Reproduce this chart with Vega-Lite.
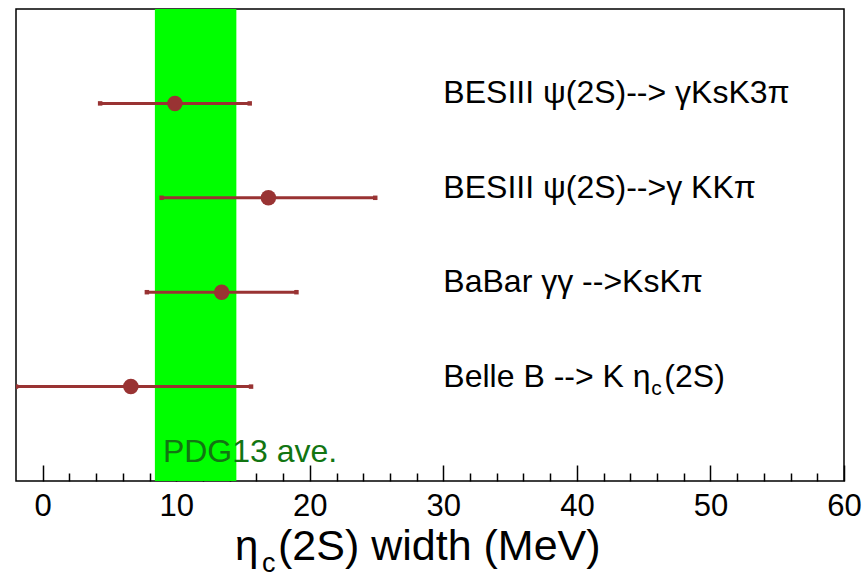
{
  "$schema": "https://vega.github.io/schema/vega-lite/v6.json",
  "width": 828,
  "height": 472,
  "autosize": {"type": "none"},
  "padding": {"left": 16, "top": 9, "right": 23, "bottom": 100},
  "background": "white",
  "config": {
    "view": {"stroke": "black", "strokeWidth": 1.5},
    "font": "Liberation Sans"
  },
  "datasets": {
    "meas": [
      {"exp": "BESIII ψ(2S)--> γKsK3π", "row": 4, "width": 9.9, "low": 4.3, "high": 15.5},
      {"exp": "BESIII ψ(2S)-->γ KKπ", "row": 3, "width": 16.9, "low": 8.9, "high": 24.9},
      {"exp": "BaBar γγ -->KsKπ", "row": 2, "width": 13.4, "low": 7.8, "high": 19.0},
      {"exp": "Belle B --> K η", "row": 1, "width": 6.6, "low": -2, "high": 15.6}
    ],
    "pdg": [
      {"lo": 8.4, "hi": 14.5, "label": "PDG13 ave."}
    ]
  },
  "layer": [
    {
      "data": {"name": "pdg"},
      "mark": {"type": "rect", "color": "#00ff00"},
      "encoding": {
        "x": {"field": "lo", "type": "quantitative", "scale": {"domain": [-2, 60], "nice": false, "zero": false},
          "axis": {"values": [0,2,4,6,8,10,12,14,16,18,20,22,24,26,28,30,32,34,36,38,40,42,44,46,48,50,52,54,56,58,60],
            "tickSize": {"condition": {"test": "datum.value % 10 === 0", "value": -16}, "value": -8},
            "labelExpr": "datum.value % 10 === 0 ? datum.label : ''",
            "grid": false, "domain": false, "tickColor": "black", "tickWidth": 1.5, "labelFlush": false,
            "labelFontSize": 31, "labelFont": "Liberation Sans", "labelColor": "black", "labelPadding": 26, "title": null}},
        "x2": {"field": "hi"},
        "y": {"datum": 0, "type": "quantitative", "scale": {"domain": [0, 5], "nice": false, "zero": false}, "axis": null},
        "y2": {"datum": 5}
      }
    },
    {
      "data": {"name": "pdg"},
      "mark": {"type": "text", "align": "left", "baseline": "alphabetic", "fontSize": 32, "color": "#127512", "dx": 8, "font": "Liberation Sans"},
      "encoding": {
        "x": {"field": "lo", "type": "quantitative", "scale": {"domain": [-2, 60], "nice": false, "zero": false},
          "axis": {"values": [0,2,4,6,8,10,12,14,16,18,20,22,24,26,28,30,32,34,36,38,40,42,44,46,48,50,52,54,56,58,60],
            "tickSize": {"condition": {"test": "datum.value % 10 === 0", "value": -16}, "value": -8},
            "labelExpr": "datum.value % 10 === 0 ? datum.label : ''",
            "grid": false, "domain": false, "tickColor": "black", "tickWidth": 1.5, "labelFlush": false,
            "labelFontSize": 31, "labelFont": "Liberation Sans", "labelColor": "black", "labelPadding": 26, "title": null}},
        "y": {"datum": 0.2, "type": "quantitative", "scale": {"domain": [0, 5], "nice": false, "zero": false}, "axis": null},
        "text": {"field": "label"}
      }
    },
    {
      "data": {"name": "meas"},
      "mark": {"type": "rule", "color": "#993333", "strokeWidth": 3, "clip": true},
      "encoding": {
        "x": {"field": "low", "type": "quantitative", "scale": {"domain": [-2, 60], "nice": false, "zero": false},
          "axis": {"values": [0,2,4,6,8,10,12,14,16,18,20,22,24,26,28,30,32,34,36,38,40,42,44,46,48,50,52,54,56,58,60],
            "tickSize": {"condition": {"test": "datum.value % 10 === 0", "value": -16}, "value": -8},
            "labelExpr": "datum.value % 10 === 0 ? datum.label : ''",
            "grid": false, "domain": false, "tickColor": "black", "tickWidth": 1.5, "labelFlush": false,
            "labelFontSize": 31, "labelFont": "Liberation Sans", "labelColor": "black", "labelPadding": 26, "title": null}},
        "x2": {"field": "high"},
        "y": {"field": "row", "type": "quantitative", "scale": {"domain": [0, 5], "nice": false, "zero": false}, "axis": null}
      }
    },
    {
      "data": {"name": "meas"},
      "transform": [{"fold": ["low", "high"], "as": ["end", "val"]}],
      "mark": {"type": "point", "shape": "square", "filled": true, "size": 20, "color": "#993333", "opacity": 1, "clip": true},
      "encoding": {
        "x": {"field": "val", "type": "quantitative", "scale": {"domain": [-2, 60], "nice": false, "zero": false},
          "axis": {"values": [0,2,4,6,8,10,12,14,16,18,20,22,24,26,28,30,32,34,36,38,40,42,44,46,48,50,52,54,56,58,60],
            "tickSize": {"condition": {"test": "datum.value % 10 === 0", "value": -16}, "value": -8},
            "labelExpr": "datum.value % 10 === 0 ? datum.label : ''",
            "grid": false, "domain": false, "tickColor": "black", "tickWidth": 1.5, "labelFlush": false,
            "labelFontSize": 31, "labelFont": "Liberation Sans", "labelColor": "black", "labelPadding": 26, "title": null}},
        "y": {"field": "row", "type": "quantitative", "scale": {"domain": [0, 5], "nice": false, "zero": false}, "axis": null}
      }
    },
    {
      "data": {"name": "meas"},
      "mark": {"type": "point", "shape": "circle", "filled": true, "size": 240, "color": "#993333", "opacity": 1},
      "encoding": {
        "x": {"field": "width", "type": "quantitative", "scale": {"domain": [-2, 60], "nice": false, "zero": false},
          "axis": {"values": [0,2,4,6,8,10,12,14,16,18,20,22,24,26,28,30,32,34,36,38,40,42,44,46,48,50,52,54,56,58,60],
            "tickSize": {"condition": {"test": "datum.value % 10 === 0", "value": -16}, "value": -8},
            "labelExpr": "datum.value % 10 === 0 ? datum.label : ''",
            "grid": false, "domain": false, "tickColor": "black", "tickWidth": 1.5, "labelFlush": false,
            "labelFontSize": 31, "labelFont": "Liberation Sans", "labelColor": "black", "labelPadding": 26, "title": null}},
        "y": {"field": "row", "type": "quantitative", "scale": {"domain": [0, 5], "nice": false, "zero": false}, "axis": null}
      }
    },
    {
      "data": {"name": "meas"},
      "mark": {"type": "text", "align": "left", "baseline": "alphabetic", "fontSize": 32, "color": "black", "font": "Liberation Sans"},
      "encoding": {
        "x": {"datum": 30, "type": "quantitative", "scale": {"domain": [-2, 60], "nice": false, "zero": false},
          "axis": {"values": [0,2,4,6,8,10,12,14,16,18,20,22,24,26,28,30,32,34,36,38,40,42,44,46,48,50,52,54,56,58,60],
            "tickSize": {"condition": {"test": "datum.value % 10 === 0", "value": -16}, "value": -8},
            "labelExpr": "datum.value % 10 === 0 ? datum.label : ''",
            "grid": false, "domain": false, "tickColor": "black", "tickWidth": 1.5, "labelFlush": false,
            "labelFontSize": 31, "labelFont": "Liberation Sans", "labelColor": "black", "labelPadding": 26, "title": null}},
        "y": {"field": "row", "type": "quantitative", "scale": {"domain": [0, 5], "nice": false, "zero": false}, "axis": null},
        "text": {"field": "exp"}
      }
    },
    {
      "data": {"values": [{"sub": "c", "rest": "(2S)", "row": 1}]},
      "layer": [
        {
          "mark": {"type": "text", "align": "left", "baseline": "alphabetic", "fontSize": 21, "color": "black", "dx": 208, "dy": 8, "font": "Liberation Sans"},
          "encoding": {"text": {"field": "sub"}}
        },
        {
          "mark": {"type": "text", "align": "left", "baseline": "alphabetic", "fontSize": 32, "color": "black", "dx": 221, "font": "Liberation Sans"},
          "encoding": {"text": {"field": "rest"}}
        }
      ],
      "encoding": {
        "x": {"datum": 30, "type": "quantitative", "scale": {"domain": [-2, 60], "nice": false, "zero": false},
          "axis": {"values": [0,2,4,6,8,10,12,14,16,18,20,22,24,26,28,30,32,34,36,38,40,42,44,46,48,50,52,54,56,58,60],
            "tickSize": {"condition": {"test": "datum.value % 10 === 0", "value": -16}, "value": -8},
            "labelExpr": "datum.value % 10 === 0 ? datum.label : ''",
            "grid": false, "domain": false, "tickColor": "black", "tickWidth": 1.5, "labelFlush": false,
            "labelFontSize": 31, "labelFont": "Liberation Sans", "labelColor": "black", "labelPadding": 26, "title": null}},
        "y": {"field": "row", "type": "quantitative", "scale": {"domain": [0, 5], "nice": false, "zero": false}, "axis": null}
      }
    },
    {
      "data": {"values": [{"a": "η", "b": "c", "c": "(2S) width (MeV)"}]},
      "layer": [
        {
          "mark": {"type": "text", "align": "left", "baseline": "alphabetic", "fontSize": 42, "color": "black", "font": "Liberation Sans"},
          "encoding": {"text": {"field": "a"}}
        },
        {
          "mark": {"type": "text", "align": "left", "baseline": "alphabetic", "fontSize": 27, "color": "black", "dx": 27, "dy": 12, "font": "Liberation Sans"},
          "encoding": {"text": {"field": "b"}}
        },
        {
          "mark": {"type": "text", "align": "left", "baseline": "alphabetic", "fontSize": 43, "color": "black", "dx": 43, "font": "Liberation Sans"},
          "encoding": {"text": {"field": "c"}}
        }
      ],
      "encoding": {
        "x": {"datum": 14.4, "type": "quantitative", "scale": {"domain": [-2, 60], "nice": false, "zero": false},
          "axis": {"values": [0,2,4,6,8,10,12,14,16,18,20,22,24,26,28,30,32,34,36,38,40,42,44,46,48,50,52,54,56,58,60],
            "tickSize": {"condition": {"test": "datum.value % 10 === 0", "value": -16}, "value": -8},
            "labelExpr": "datum.value % 10 === 0 ? datum.label : ''",
            "grid": false, "domain": false, "tickColor": "black", "tickWidth": 1.5, "labelFlush": false,
            "labelFontSize": 31, "labelFont": "Liberation Sans", "labelColor": "black", "labelPadding": 26, "title": null}},
        "y": {"datum": -0.84, "type": "quantitative", "scale": {"domain": [0, 5], "nice": false, "zero": false}, "axis": null}
      }
    }
  ]
}
